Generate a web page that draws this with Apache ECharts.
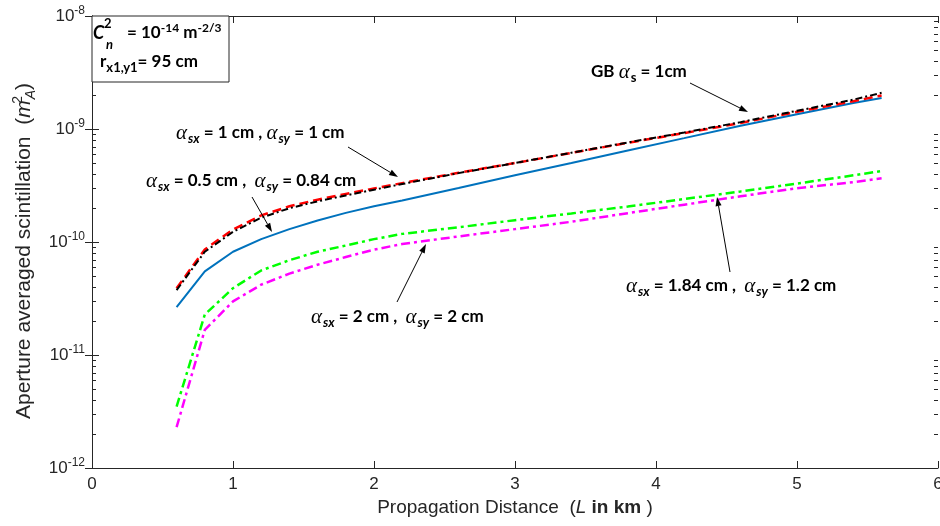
<!DOCTYPE html>
<html>
<head>
<meta charset="utf-8">
<title>Aperture averaged scintillation</title>
<script src="https://cdn.jsdelivr.net/npm/echarts@6/dist/echarts.min.js"></script>
<style>
  html, body { margin: 0; padding: 0; background: #fff; }
  #container { width: 940px; height: 526px; }
</style>
</head>
<body>
<div id="container"></div>
<script>
// propagation distance L (km)
var distance = [0.6, 0.8, 1.0, 1.2, 1.4, 1.6, 1.8, 2.0, 2.2, 2.6, 3.0, 3.4, 3.8, 4.2, 4.6, 5.0, 5.4, 5.6];
// aperture averaged scintillation values
var blueSolid = [2.65e-11, 5.5e-11, 8.2e-11, 1.06e-10, 1.30e-10, 1.55e-10, 1.81e-10, 2.07e-10, 2.33e-10, 3.0e-10, 3.9e-10, 5.0e-10, 6.45e-10, 8.3e-10, 1.07e-9, 1.35e-9, 1.70e-9, 1.88e-9];
var redDashed = [3.9e-11, 8.6e-11, 1.29e-10, 1.72e-10, 2.07e-10, 2.37e-10, 2.66e-10, 2.98e-10, 3.32e-10, 4.1e-10, 5.0e-10, 6.15e-10, 7.55e-10, 9.2e-10, 1.13e-9, 1.42e-9, 1.76e-9, 1.98e-9];
var blackDashDot = [3.75e-11, 8.2e-11, 1.23e-10, 1.64e-10, 1.99e-10, 2.29e-10, 2.58e-10, 2.9e-10, 3.26e-10, 4.07e-10, 5.0e-10, 6.17e-10, 7.6e-10, 9.3e-10, 1.15e-9, 1.45e-9, 1.82e-9, 2.09e-9];
var greenDashDot = [3.5e-12, 2.28e-11, 3.9e-11, 5.6e-11, 6.9e-11, 8.2e-11, 9.3e-11, 1.06e-10, 1.18e-10, 1.35e-10, 1.56e-10, 1.79e-10, 2.06e-10, 2.4e-10, 2.8e-10, 3.29e-10, 3.89e-10, 4.25e-10];
var magentaDashDot = [2.3e-12, 1.67e-11, 2.98e-11, 4.19e-11, 5.25e-11, 6.3e-11, 7.36e-11, 8.55e-11, 9.6e-11, 1.12e-10, 1.30e-10, 1.51e-10, 1.80e-10, 2.14e-10, 2.54e-10, 2.99e-10, 3.39e-10, 3.66e-10];
// axis ranges
var xMin = 0, xMax = 6;
var yExpMin = -12, yExpMax = -8;

function pairs(ys) {
    var out = [];
    for (var i = 0; i < distance.length; i++) out.push([distance[i], ys[i]]);
    return out;
}

var axisColor = '#262626';
var textFont = 'Lato';

var annRich = {
    a: { fontFamily: 'Liberation Serif', fontStyle: 'italic', fontSize: 21, fill: '#000' },
    s: { fontFamily: textFont, fontWeight: 'bold', fontStyle: 'italic', fontSize: 13, padding: [12, 0, 0, 1], fill: '#000' },
    u: { fontFamily: textFont, fontWeight: 'bold', fontSize: 13, padding: [12, 0, 0, 1], fill: '#000' },
    t: { fontFamily: textFont, fontWeight: 'bold', fontSize: 17, fill: '#000' },
    sup: { fontFamily: textFont, fontWeight: 'bold', fontSize: 12, padding: [0, 0, 10, 0], fill: '#000' },
    sub: { fontFamily: textFont, fontWeight: 'bold', fontSize: 13, padding: [11, 0, 0, 0], fill: '#000' }
};

var dom = document.getElementById('container');
var myChart = echarts.init(dom, null, { renderer: 'canvas' });

var option = {
    animation: false,
    backgroundColor: '#fff',
    grid: { left: 92, right: 2, top: 16, bottom: 58, containLabel: false, outerBoundsMode: 'none' },
    xAxis: [{
        type: 'value', min: xMin, max: xMax, interval: 1,
        axisLine: { show: true, lineStyle: { color: axisColor, width: 1 } },
        axisTick: { show: true, inside: true, length: 7, lineStyle: { color: axisColor } },
        splitLine: { show: false },
        axisLabel: { fontSize: 17, color: axisColor, fontFamily: 'Liberation Sans', margin: 8 },
        name: '{t|Propagation Distance  (}{i|L}{b| in km }{t|)}',
        nameLocation: 'middle',
        nameGap: 26,
        nameTextStyle: {
            rich: {
                t: { fontSize: 19, fontFamily: 'Liberation Sans', color: axisColor },
                i: { fontSize: 19, fontFamily: 'Liberation Sans', fontStyle: 'italic', color: axisColor },
                b: { fontSize: 19, fontFamily: 'Liberation Sans', fontWeight: 'bold', color: axisColor }
            }
        }
    }, {
        type: 'value', position: 'top', min: xMin, max: xMax, interval: 1,
        axisLine: { show: true, lineStyle: { color: axisColor, width: 1 } },
        axisTick: { show: true, inside: true, length: 7, lineStyle: { color: axisColor } },
        axisLabel: { show: false },
        splitLine: { show: false }
    }],
    yAxis: [{
        type: 'log', logBase: 10,
        min: Math.pow(10, yExpMin), max: Math.pow(10, yExpMax), splitNumber: 4,
        axisLine: { show: true, lineStyle: { color: axisColor, width: 1 } },
        axisTick: { show: true, inside: true, length: 7, lineStyle: { color: axisColor } },
        splitLine: { show: false },
        axisLabel: {
            margin: 7,
            formatter: function (v) {
                return '{b|10}{s|' + Math.round(Math.log10(v)) + '}';
            },
            rich: {
                b: { fontSize: 17, fontFamily: 'Liberation Sans', color: axisColor },
                s: { fontSize: 12, fontFamily: 'Liberation Sans', color: axisColor, padding: [0, 0, 10, 0] }
            }
        },
        name: '{t|Aperture averaged scintillation  (}{i|m}{p|2}{q|A}{t|)}',
        nameLocation: 'middle',
        nameRotate: 90,
        nameGap: 51,
        nameTextStyle: {
            padding: [0, 18, 0, 0],
            rich: {
                t: { fontSize: 21, fontFamily: 'Liberation Sans', color: axisColor },
                i: { fontSize: 21, fontFamily: 'Liberation Sans', fontStyle: 'italic', color: axisColor },
                p: { fontSize: 14, fontFamily: 'Liberation Sans', color: axisColor, padding: [0, 0, 13, 0], width: 1 },
                q: { fontSize: 14, fontFamily: 'Liberation Sans', fontStyle: 'italic', color: axisColor, padding: [13, 0, 0, 0] }
            }
        }
    }, {
        type: 'log', logBase: 10, position: 'right',
        min: Math.pow(10, yExpMin), max: Math.pow(10, yExpMax), splitNumber: 4,
        axisLine: { show: true, lineStyle: { color: axisColor, width: 1 } },
        axisTick: { show: true, inside: true, length: 7, lineStyle: { color: axisColor } },
        axisLabel: { show: false },
        splitLine: { show: false }
    }],
    series: [
        { name: 'GB', type: 'line', data: pairs(blueSolid), showSymbol: false,
          lineStyle: { color: '#0072BD', width: 2 } },
        { name: 'red', type: 'line', data: pairs(redDashed), showSymbol: false,
          lineStyle: { color: '#FF0000', width: 2.5, type: [9, 5] } },
        { name: 'black', type: 'line', data: pairs(blackDashDot), showSymbol: false,
          lineStyle: { color: '#000000', width: 2, type: [7, 3, 2, 3] } },
        { name: 'green', type: 'line', data: pairs(greenDashDot), showSymbol: false,
          lineStyle: { color: '#00FF00', width: 2.5, type: [9, 4, 3, 4] } },
        { name: 'magenta', type: 'line', data: pairs(magentaDashDot), showSymbol: false,
          lineStyle: { color: '#FF00FF', width: 2.5, type: [9, 4, 3, 4] } }
    ]
};
myChart.setOption(option);

// ---- annotations: minor ticks, text box, labels, arrows ----
function arrow(x1, y1, x2, y2) {
    var dx = x2 - x1, dy = y2 - y1;
    var L = Math.sqrt(dx * dx + dy * dy);
    var ux = dx / L, uy = dy / L, hl = 9, hw = 3;
    var bx = x2 - ux * hl, by = y2 - uy * hl;
    return [
        { type: 'line', z: 100, shape: { x1: x1, y1: y1, x2: bx, y2: by }, style: { stroke: '#000', lineWidth: 1 } },
        { type: 'polygon', z: 100, shape: { points: [[x2, y2], [bx - uy * hw, by + ux * hw], [bx + uy * hw, by - ux * hw]] }, style: { fill: '#000' } }
    ];
}
function label(x, y, text) {
    return { type: 'text', z: 100, x: x, y: y, style: { text: text, rich: annRich, verticalAlign: 'middle', fill: '#000' } };
}

var g = [];
var xl = myChart.convertToPixel({ xAxisIndex: 0 }, xMin);
var xr = myChart.convertToPixel({ xAxisIndex: 0 }, xMax);
for (var e = yExpMin; e < yExpMax; e++) {
    for (var k = 2; k <= 9; k++) {
        var py = Math.round(myChart.convertToPixel({ yAxisIndex: 0 }, k * Math.pow(10, e))) + 0.5;
        g.push({ type: 'line', z: 90, shape: { x1: xl, y1: py, x2: xl + 4, y2: py }, style: { stroke: axisColor, lineWidth: 1 } });
        g.push({ type: 'line', z: 90, shape: { x1: xr - 4, y1: py, x2: xr, y2: py }, style: { stroke: axisColor, lineWidth: 1 } });
    }
}

// parameter box in the top-left corner
var yt = myChart.convertToPixel({ yAxisIndex: 0 }, Math.pow(10, yExpMax));
g.push({ type: 'rect', z: 95, shape: { x: xl, y: yt, width: 137, height: 66 }, style: { fill: '#fff', stroke: axisColor, lineWidth: 1 } });
g.push({ type: 'text', z: 100, x: 93, y: 33, style: { text: 'C', font: 'italic bold 18px Lato', fill: '#000', verticalAlign: 'middle' } });
g.push({ type: 'text', z: 100, x: 104, y: 24, style: { text: '2', font: 'bold 13px Lato', fill: '#000', verticalAlign: 'middle' } });
g.push({ type: 'text', z: 100, x: 106, y: 45, style: { text: 'n', font: 'italic bold 13px Lato', fill: '#000', verticalAlign: 'middle' } });
g.push(label(127, 33, '{t|= 10}{sup|-14}{t| m}{sup|-2/3}'));
g.push(label(100, 62, '{t|r}{sub|x1,y1}{t|= 95 cm}'));

// curve labels
g.push(label(591, 72, '{t|GB }{a|α}{u|s}{t| = 1cm}'));
g.push(label(176, 133, '{a|α}{s|sx}{t| = 1 cm , }{a|α}{s|sy}{t| = 1 cm}'));
g.push(label(146, 181, '{a|α}{s|sx}{t| = 0.5 cm ,  }{a|α}{s|sy}{t| = 0.84 cm}'));
g.push(label(311, 317, '{a|α}{s|sx}{t| = 2 cm ,  }{a|α}{s|sy}{t| = 2 cm}'));
g.push(label(626, 286, '{a|α}{s|sx}{t| = 1.84 cm ,  }{a|α}{s|sy}{t| = 1.2 cm}'));

g = g.concat(arrow(690, 83, 748, 112));
g = g.concat(arrow(348, 147, 398, 177));
g = g.concat(arrow(252, 197, 272, 232));
g = g.concat(arrow(397, 302, 426, 244));
g = g.concat(arrow(730, 272, 717, 197));

myChart.setOption({ graphic: g });
</script>
</body>
</html>
